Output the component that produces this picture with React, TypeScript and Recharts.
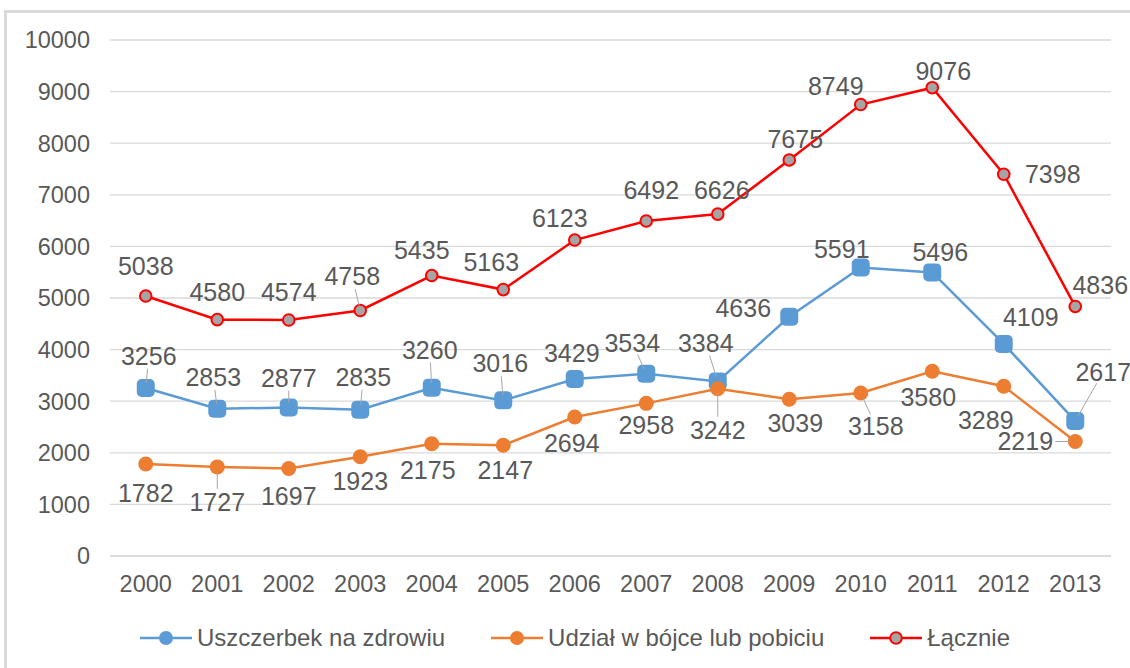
import React from 'react';
import { LineChart, Line, XAxis, YAxis, CartesianGrid, Legend, LabelList } from 'recharts';

const years = ['2000','2001','2002','2003','2004','2005','2006','2007','2008','2009','2010','2011','2012','2013'];
const uszczerbek = [3256, 2853, 2877, 2835, 3260, 3016, 3429, 3534, 3384, 4636, 5591, 5496, 4109, 2617];
const udzial = [1782, 1727, 1697, 1923, 2175, 2147, 2694, 2958, 3242, 3039, 3158, 3580, 3289, 2219];
const lacznie = [5038, 4580, 4574, 4758, 5435, 5163, 6123, 6492, 6626, 7675, 8749, 9076, 7398, 4836];
const yTicks = [0, 1000, 2000, 3000, 4000, 5000, 6000, 7000, 8000, 9000, 10000];

const SERIES_NAMES = ['Uszczerbek na zdrowiu', 'Udział w bójce lub pobiciu', 'Łącznie'];

// label offsets relative to the point and leader-line flags (style only)
const blueOff: [number, number][] = [[3,-32],[-4,-32],[0,-30],[3,-33],[-2,-38],[-3,-37],[-3,-26],[-14,-31],[-12,-38],[-46,-9],[-19,-19],[8,-20],[27,-27],[28,-49]];
const orangeOff: [number, number][] = [[0,29],[0,35],[0,28],[0,24],[-4,26],[2,25],[-3,26],[0,22],[0,41],[6,24],[15,33],[-4,26],[-18,34],[-50,0]];
const redOff: [number, number][] = [[0,-30],[0,-28],[0,-28],[-8,-34],[-10,-26],[-12,-28],[-15,-22],[5,-31],[4,-24],[6,-21],[-25,-19],[11,-17],[49,0],[25,-21]];
const blueLeader = [1,1,1,1,1,1,0,1,1,0,0,0,0,1];
const orangeLeader = [0,1,0,0,0,0,0,0,1,0,1,0,0,1];
const redLeader = [0,0,0,1,0,0,0,0,0,0,0,0,0,0];

const FONT = '"Liberation Sans", Arial, sans-serif';
const TXT = '#595959';
const BLUE = '#5B9BD5';
const ORANGE = '#ED7D31';
const RED = '#FF0000';

const data = years.map((y, i) => ({ year: y, u: uszczerbek[i], d: udzial[i], l: lacznie[i] }));

const makeLabel = (offs: [number, number][], leaders: number[]) => (props: any) => {
  const { x, y, value, index } = props;
  const [dx, dy] = offs[index] || [0, -28];
  const lx = x + dx;
  const ly = y + dy;
  let leader = null;
  if (leaders[index]) {
    const L = Math.sqrt(dx * dx + dy * dy);
    const ux = -dx / L;
    const uy = -dy / L;
    const s0 = Math.abs(uy) > 0.7 ? 13 : 30;
    const s1 = L - 5;
    if (s1 > s0 + 3) {
      leader = <line x1={lx + ux * s0} y1={ly + uy * s0} x2={lx + ux * s1} y2={ly + uy * s1} stroke="#A6A6A6" strokeWidth={1} />;
    }
  }
  return (
    <g>
      {leader}
      <text x={lx} y={ly} textAnchor="middle" dominantBaseline="central" fontSize={25} fill={TXT} fontFamily={FONT}>
        {value}
      </text>
    </g>
  );
};

const BlueDot = (props: any) => {
  const { cx, cy } = props;
  if (cx == null || cy == null) return null;
  return <rect x={cx - 9} y={cy - 9} width={18} height={18} rx={5} ry={5} fill={BLUE} />;
};
const OrangeDot = (props: any) => {
  const { cx, cy } = props;
  if (cx == null || cy == null) return null;
  return <circle cx={cx} cy={cy} r={7.5} fill={ORANGE} />;
};
const RedDot = (props: any) => {
  const { cx, cy } = props;
  if (cx == null || cy == null) return null;
  return <circle cx={cx} cy={cy} r={5.8} fill="#A5A5A5" stroke={RED} strokeWidth={2} />;
};

const LegendIcon = ({ kind }: { kind: number }) => (
  <svg width={52} height={20} style={{ display: 'block' }}>
    <line x1={0} y1={10} x2={52} y2={10} stroke={[BLUE, ORANGE, RED][kind]} strokeWidth={2.5} />
    {kind === 0 && <circle cx={26} cy={10} r={7} fill={BLUE} />}
    {kind === 1 && <circle cx={26} cy={10} r={7} fill={ORANGE} />}
    {kind === 2 && <circle cx={26} cy={10} r={5.8} fill="#A5A5A5" stroke={RED} strokeWidth={2} />}
  </svg>
);

const LegendContent = () => (
  <div style={{ display: 'flex', alignItems: 'center', fontFamily: FONT, fontSize: 24, color: TXT, whiteSpace: 'nowrap' }}>
    {SERIES_NAMES.map((n, i) => (
      <div key={n} style={{ display: 'flex', alignItems: 'center', marginRight: 46 }}>
        <LegendIcon kind={i} />
        <span style={{ marginLeft: 5 }}>{n}</span>
      </div>
    ))}
  </div>
);

export default function App() {
  return (
    <div style={{ position: 'fixed', left: 0, top: 0, width: 1130, height: 668, background: '#fff', overflow: 'hidden' }}>
      <div style={{ position: 'absolute', left: 4, top: 10, width: 1200, height: 800, borderTop: '3px solid #D9D9D9', borderLeft: '3px solid #D9D9D9' }} />
      <div style={{ position: 'absolute', left: 0, top: 0 }}>
        <LineChart width={1130} height={668} data={data} margin={{ top: 40, right: 19, bottom: 82, left: 10 }}>
          <CartesianGrid vertical={false} stroke="#D9D9D9" strokeWidth={1.3} />
          <XAxis
            dataKey="year"
            padding={{ left: 35.75, right: 35.75 }}
            tickLine={false}
            tickSize={0}
            tickMargin={19}
            axisLine={{ stroke: '#D9D9D9', strokeWidth: 1.3 }}
            tick={{ fontSize: 23.5, fill: TXT, fontFamily: FONT }}
            height={30}
            interval={0}
          />
          <YAxis
            domain={[0, 10000]}
            ticks={yTicks}
            width={100}
            tickLine={false}
            tickSize={0}
            tickMargin={20}
            axisLine={false}
            tick={{ fontSize: 23.5, fill: TXT, fontFamily: FONT }}
            interval={0}
          />
          <Legend layout="horizontal" verticalAlign="middle" align="center" content={<LegendContent />} wrapperStyle={{ top: 624, left: 140, width: 980 }} />
          <Line type="linear" dataKey="u" name={SERIES_NAMES[0]} stroke={BLUE} strokeWidth={2.5} dot={<BlueDot />} activeDot={false} isAnimationActive={false}>
            <LabelList dataKey="u" content={makeLabel(blueOff, blueLeader)} />
          </Line>
          <Line type="linear" dataKey="d" name={SERIES_NAMES[1]} stroke={ORANGE} strokeWidth={2.5} dot={<OrangeDot />} activeDot={false} isAnimationActive={false}>
            <LabelList dataKey="d" content={makeLabel(orangeOff, orangeLeader)} />
          </Line>
          <Line type="linear" dataKey="l" name={SERIES_NAMES[2]} stroke={RED} strokeWidth={2.5} dot={<RedDot />} activeDot={false} isAnimationActive={false}>
            <LabelList dataKey="l" content={makeLabel(redOff, redLeader)} />
          </Line>
        </LineChart>
      </div>
    </div>
  );
}
